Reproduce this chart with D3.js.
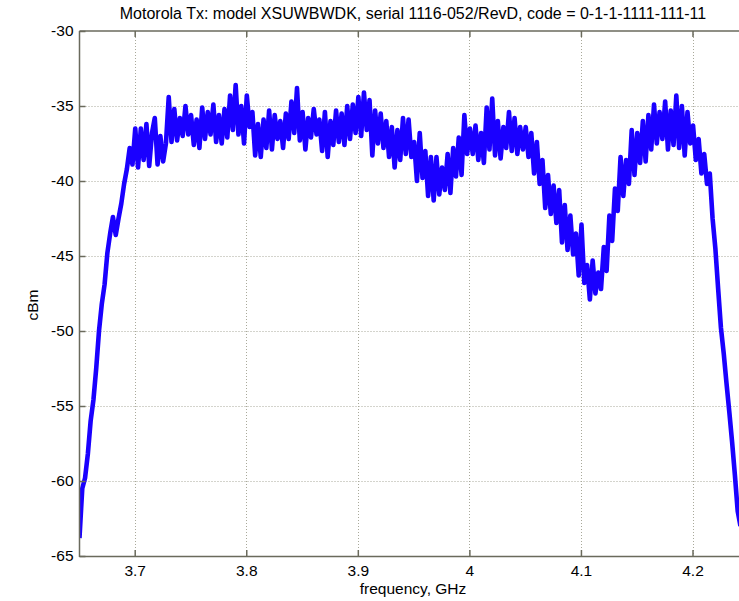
<!DOCTYPE html>
<html>
<head>
<meta charset="utf-8">
<script src="https://cdn.jsdelivr.net/npm/d3@7"></script>
<style>
  html, body { margin: 0; padding: 0; background: #fff; }
  svg { display: block; }
  text { font-family: "Liberation Sans", Arial, sans-serif; fill: #000; }
</style>
</head>
<body>
<svg id="chart" width="739" height="601"></svg>
<script>
// ---- data ----
const title = "Motorola Tx: model XSUWBWDK, serial 1116-052/RevD, code = 0-1-1-1111-111-11";
const xLabel = "frequency, GHz";
const yLabel = "cBm";
const xTicks = [3.7, 3.8, 3.9, 4.0, 4.1, 4.2];
const xTickLabels = ["3.7", "3.8", "3.9", "4", "4.1", "4.2"];
const yTicks = [-65, -60, -55, -50, -45, -40, -35, -30];
const yTickLabels = ["-65", "-60", "-55", "-50", "-45", "-40", "-35", "-30"];
const yDomain = [-65, -30];
// sweep: start frequency and step (GHz)
const sweepStart = 3.6505;
const sweepStep = 0.0025;
const levelRise = [
  -63.8, -60.5, -59.8, -58.2, -56.0, -54.6, -52.5, -50.0, -48.2, -46.9,
  -44.8, -43.5, -42.4, -43.6, -42.5, -41.5, -40.2, -39.2, -37.8, -38.9
];
const levelBand1 = [
  -36.5, -39.1, -36.5, -38.6, -36.2, -39.0, -36.8, -35.8, -38.9, -37.0,
  -38.7, -37.5, -34.4, -37.4, -35.2, -37.3, -35.8, -37.0, -35.0, -36.9,
  -35.6, -37.6, -35.9, -37.8, -35.1, -37.2, -35.4, -36.9, -34.9, -37.4,
  -35.6, -37.5, -35.2, -37.1, -34.3, -36.6, -33.6, -36.9
];
const levelBand2 = [
  -35.0, -37.5, -34.3, -36.4, -35.4, -38.3, -36.2, -38.4, -35.9, -37.8,
  -35.3, -37.9, -35.6, -37.2, -36.0, -37.8, -35.5, -37.2, -34.7, -36.8,
  -33.8, -37.3, -35.4, -37.9, -35.8, -37.1, -35.2, -36.9, -35.9, -38.0,
  -35.4, -38.4, -36.0, -37.6, -35.3, -37.4, -35.5, -37.6, -35.0, -37.2,
  -34.9, -36.8, -34.4, -37.0, -34.1, -36.6, -34.6, -38.3, -35.3, -37.5,
  -35.5, -37.8, -36.0, -38.4, -36.4, -39.1, -36.6, -38.6
];
const levelDip1 = [
  -35.8, -38.2, -35.9, -38.4, -37.4, -40.0, -36.8, -39.8, -38.0, -41.0,
  -38.4, -41.3, -38.4, -40.9, -39.1, -40.6, -38.2, -40.8, -37.8, -39.7,
  -37.1, -39.6, -35.6, -38.2
];
const levelBand3 = [
  -36.5, -38.2, -36.3, -38.6, -36.8, -38.8, -35.1, -37.9, -34.5, -38.3,
  -36.0, -38.5, -36.4, -37.8, -35.4, -38.0, -35.8, -38.2, -36.4, -37.9,
  -36.4, -38.4, -36.8
];
const levelDip2 = [
  -39.5, -37.4, -40.2, -38.6, -41.8, -39.6, -42.2, -40.3, -42.8, -40.6,
  -44.1, -41.6, -44.6, -42.3, -44.9, -43.5, -46.3, -42.9, -46.8, -45.6,
  -47.9, -45.3, -47.5, -46.1, -47.2, -44.4, -46.0, -42.3, -44.0, -40.5,
  -42.0, -38.4, -41.0, -38.6, -40.2, -36.6, -39.6
];
const levelPeak = [
  -36.8, -38.8, -36.0, -38.7, -35.6, -37.9, -34.9, -37.5, -35.4, -37.2,
  -34.7, -37.9, -35.3, -37.6, -34.3, -37.8, -35.0, -38.3, -35.4, -37.5,
  -36.3, -38.6, -37.2, -39.5, -38.2, -40.2, -39.5
];
const levelFall = [
  -42.5, -44.5, -47.2, -49.8, -51.5, -53.5, -55.4, -57.4, -59.6, -62.0, -63.0
];

const levels = [].concat(levelRise, levelBand1, levelBand2, levelDip1, levelBand3,
                         levelDip2, levelPeak, levelFall);
const trace = levels.map((v, i) => ({ f: sweepStart + i * sweepStep, v }));

// ---- layout ----
const svg = d3.select("#chart");
const L = 79.5, T = 31, B = 556, RIGHT = 739;
const xs = d3.scaleLinear().domain([3.7, 4.2]).range([134.7, 692.5]);
const ys = d3.scaleLinear().domain(yDomain).range([B, T]);

const axisCol = "#6a6a5c";
const gridCol = "#a9a99a";
const FONT = "Liberation Sans, Arial, sans-serif";

// grid
const grid = svg.append("g");
grid.selectAll("line.gx").data(xTicks).join("line")
  .attr("x1", d => Math.round(xs(d)) + 0.5).attr("x2", d => Math.round(xs(d)) + 0.5)
  .attr("y1", T).attr("y2", B)
  .attr("stroke", gridCol).attr("stroke-width", 1).attr("stroke-dasharray", "1,2");
grid.selectAll("line.gy").data(yTicks.filter(d => d > -65 && d < -30)).join("line")
  .attr("x1", L).attr("x2", RIGHT)
  .attr("y1", d => Math.round(ys(d)) + 0.5).attr("y2", d => Math.round(ys(d)) + 0.5)
  .attr("stroke", gridCol).attr("stroke-width", 1).attr("stroke-dasharray", "1,2");

// trace
svg.append("defs").append("clipPath").attr("id", "clip")
  .append("rect").attr("x", L).attr("y", T).attr("width", RIGHT - L).attr("height", B - T);
svg.append("path")
  .datum(trace)
  .attr("clip-path", "url(#clip)")
  .attr("fill", "none")
  .attr("stroke", "#1a00ff")
  .attr("stroke-width", 4.6)
  .attr("stroke-linejoin", "round")
  .attr("d", d3.line().x(d => xs(d.f)).y(d => ys(d.v)));

// axes (box)
const axisG = svg.append("g");
axisG.append("line").attr("x1", L).attr("x2", RIGHT).attr("y1", B + 0.5).attr("y2", B + 0.5)
  .attr("stroke", axisCol).attr("stroke-width", 1.5);
axisG.append("line").attr("x1", L).attr("x2", RIGHT).attr("y1", T).attr("y2", T)
  .attr("stroke", axisCol).attr("stroke-width", 1.5);
axisG.append("line").attr("x1", L).attr("x2", L).attr("y1", T).attr("y2", B + 1)
  .attr("stroke", axisCol).attr("stroke-width", 1.5);

// bottom axis ticks + labels
const xAxis = d3.axisBottom(xs).tickValues(xTicks)
  .tickFormat((d, i) => xTickLabels[i]).tickSizeInner(-6).tickSizeOuter(0).tickPadding(9);
const gx = svg.append("g").attr("transform", `translate(0,${B})`).call(xAxis);
gx.select(".domain").remove();
gx.selectAll(".tick line").attr("stroke", axisCol).attr("stroke-width", 1.5);
gx.selectAll(".tick text").attr("font-size", 15.5).attr("font-family", FONT).attr("fill", "#000");

// top ticks
const gxt = svg.append("g").attr("transform", `translate(0,${T})`)
  .call(d3.axisTop(xs).tickValues(xTicks).tickSizeInner(-6).tickSizeOuter(0).tickFormat(""));
gxt.select(".domain").remove();
gxt.selectAll(".tick line").attr("stroke", axisCol).attr("stroke-width", 1.5);

// left axis
const yAxis = d3.axisLeft(ys).tickValues(yTicks).tickFormat((d, i) => yTickLabels[i])
  .tickSizeInner(-6).tickSizeOuter(0).tickPadding(6);
const gy = svg.append("g").attr("transform", `translate(${L},0)`).call(yAxis);
gy.select(".domain").remove();
gy.selectAll(".tick line").attr("stroke", axisCol).attr("stroke-width", 1.5);
gy.selectAll(".tick text").attr("font-size", 15.5).attr("font-family", FONT).attr("fill", "#000");

// labels
svg.append("text").attr("x", 413).attr("y", 19).attr("text-anchor", "middle")
  .attr("font-size", 16).text(title);
svg.append("text").attr("x", 413).attr("y", 594).attr("text-anchor", "middle")
  .attr("font-size", 15.5).text(xLabel);
svg.append("text").attr("transform", "translate(38,305) rotate(-90)").attr("text-anchor", "middle")
  .attr("font-size", 15.5).text(yLabel);
</script>
</body>
</html>
